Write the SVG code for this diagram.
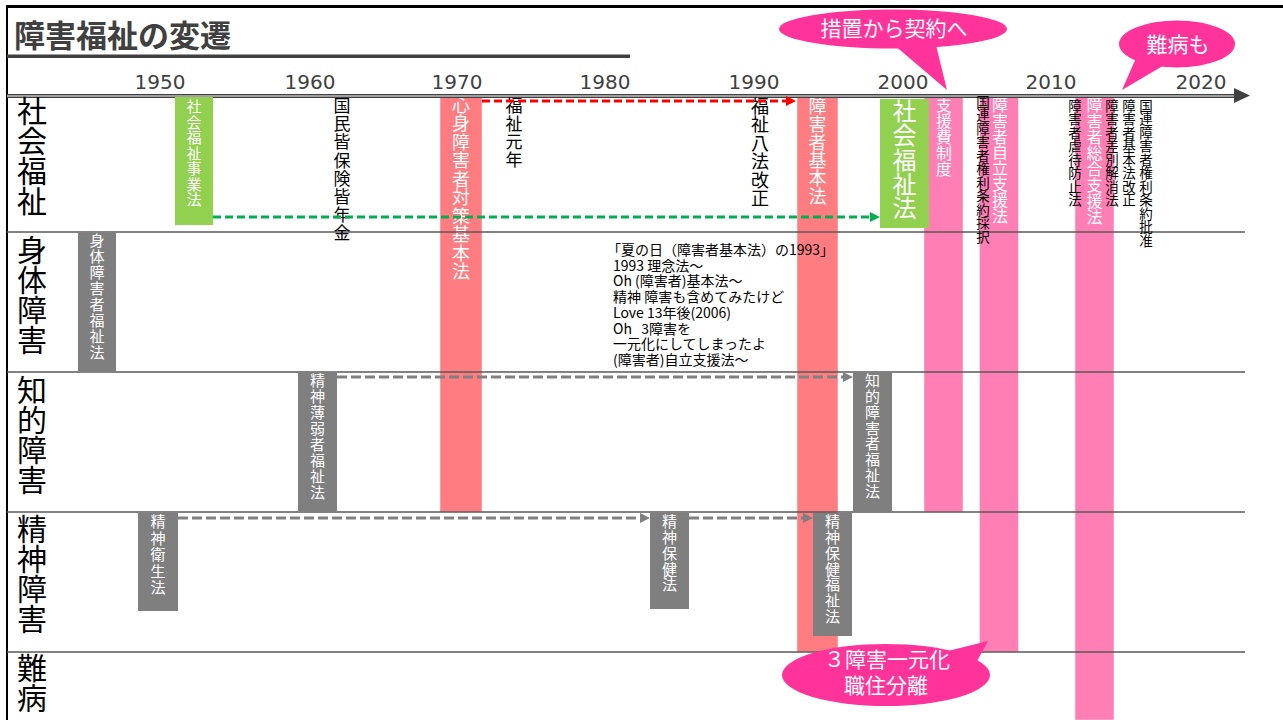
<svg xmlns="http://www.w3.org/2000/svg" width="1283" height="720" viewBox="0 0 1283 720">
<defs>
<style>
text{font-family:'Noto Sans CJK JP','Noto Sans',sans-serif;}
.v{writing-mode:vertical-rl;}
.w{fill:#fff;}
.k{fill:#000;}
.salmon{fill:#FF7C80;stroke:#fff;stroke-opacity:0.45;stroke-width:1;}
.pink{fill:#FF7EB4;stroke:#fff;stroke-opacity:0.45;stroke-width:1;}
.green{fill:#92D050;}
.gray{fill:#7F7F7F;}
.grid{stroke:#595959;stroke-width:1.3;}
.row{font-size:30px;fill:#000;}
.yr{font-family:'DejaVu Sans','Noto Sans',sans-serif;font-size:20px;fill:#404040;text-anchor:middle;}
.dash{fill:none;stroke-width:3;stroke-dasharray:8 4;}
.gdash{fill:none;stroke-width:3;stroke-dasharray:10 4;}
.callout{fill:#FF3399;}
.ct{fill:#fff;font-size:21px;text-anchor:middle;}
.lyr{font-size:14px;fill:#000;}
</style>
<marker id="arR" viewBox="0 0 10 10" refX="0" refY="5" markerWidth="10" markerHeight="10" markerUnits="userSpaceOnUse" orient="auto"><path d="M0,0 L10,5 L0,10 z" fill="#FF0000"/></marker>
<marker id="arG" viewBox="0 0 10 10" refX="0" refY="5" markerWidth="10" markerHeight="10" markerUnits="userSpaceOnUse" orient="auto"><path d="M0,0 L10,5 L0,10 z" fill="#00B050"/></marker>
<marker id="arK" viewBox="0 0 10 10" refX="0" refY="5" markerWidth="10" markerHeight="10" markerUnits="userSpaceOnUse" orient="auto"><path d="M0,0 L10,5 L0,10 z" fill="#808080"/></marker>
</defs>
<rect x="0" y="0" width="1283" height="720" fill="#fff"/>

<g id="frame">
<rect x="6" y="5" width="1277" height="3" fill="#000"/>
<rect x="6" y="5" width="2" height="715" fill="#000"/>
</g>

<g id="title">
<text x="14" y="47" font-size="31" font-weight="bold" fill="#404040">障害福祉の変遷</text>
<rect x="7" y="54.5" width="623" height="3.5" fill="#404040"/>
</g>

<g id="n-shinshin">
<rect class="salmon" x="440" y="96" width="42" height="416"/>
<text class="v w" x="461" y="96" font-size="18" letter-spacing="0.5">心身障害者対策基本法</text>
</g>
<g id="n-kihonho">
<rect class="salmon" x="797" y="96" width="41" height="556"/>
<text class="v w" x="817.5" y="97" font-size="18">障害者基本法</text>
</g>
<g id="n-shienhi">
<rect class="pink" x="924" y="96" width="39" height="416"/>
<text class="v w" x="944" y="97" font-size="16">支援費制度</text>
</g>
<g id="n-jiritsu">
<rect class="pink" x="979.5" y="96" width="39" height="556"/>
<text class="v w" x="1000" y="97" font-size="16" letter-spacing="-0.2">障害者自立支援法</text>
</g>
<g id="n-sogo">
<rect class="pink" x="1075" y="96" width="39" height="624"/>
<text class="v w" x="1094.5" y="97" font-size="16">障害者総合支援法</text>
</g>

<g id="grid">
<line class="grid" x1="7" y1="232" x2="1245" y2="232"/>
<line class="grid" x1="7" y1="372" x2="1245" y2="372"/>
<line class="grid" x1="7" y1="512" x2="1245" y2="512"/>
<line class="grid" x1="7" y1="652" x2="1245" y2="652"/>
</g>

<g id="axis">
<line x1="7" y1="96" x2="1236" y2="96" stroke="#404040" stroke-width="4"/>
<line x1="7" y1="96" x2="1236" y2="96" stroke="#fff" stroke-width="1.2"/>
<polygon points="1234,88 1250,95.5 1234,103" fill="#404040"/>
<text class="yr" x="160" y="89">1950</text>
<text class="yr" x="310" y="89">1960</text>
<text class="yr" x="457" y="89">1970</text>
<text class="yr" x="605" y="89">1980</text>
<text class="yr" x="754" y="89">1990</text>
<text class="yr" x="903" y="89">2000</text>
<text class="yr" x="1051" y="89">2010</text>
<text class="yr" x="1201" y="89">2020</text>
</g>

<g id="rowlabel-shakai"><text class="v row" x="32" y="96">社会福祉</text></g>
<g id="rowlabel-shintai"><text class="v row" x="32" y="235">身体障害</text></g>
<g id="rowlabel-chiteki"><text class="v row" x="32" y="375">知的障害</text></g>
<g id="rowlabel-seishin"><text class="v row" x="32" y="514">精神障害</text></g>
<g id="rowlabel-nanbyo"><text class="v row" x="32" y="653">難病</text></g>

<g id="n-shakaijigyo">
<rect class="green" x="175" y="97" width="38" height="128"/>
<text class="v w" x="194" y="99" font-size="15" letter-spacing="0.5">社会福祉事業法</text>
</g>
<g id="n-kaihoken">
<text class="v k" x="342" y="97" font-size="17" letter-spacing="1.2">国民皆保険皆年金</text>
</g>
<g id="n-gannen">
<text class="v k" x="514" y="97" font-size="17" letter-spacing="1">福祉元年</text>
</g>
<g id="n-happo">
<text class="v k" x="760" y="97" font-size="18" letter-spacing="0.5">福祉八法改正</text>
</g>
<g id="n-shakaifukushiho">
<rect class="green" x="880" y="99" width="49" height="129"/>
<text class="v w" x="904.5" y="99" font-size="24" letter-spacing="0.3">社会福祉法</text>
</g>
<g id="n-kenri-saitaku">
<text class="v k" x="983" y="95" font-size="13.5">国連障害者権利条約採択</text>
</g>
<g id="n-gyakutai">
<text class="v k" x="1075" y="99" font-size="13.5">障害者虐待防止法</text>
</g>
<g id="n-sabetsu">
<text class="v k" x="1112" y="99" font-size="13.5">障害者差別解消法</text>
</g>
<g id="n-kihon-kaisei">
<text class="v k" x="1129" y="99" font-size="13.5">障害者基本法改正</text>
</g>
<g id="n-kenri-hijun">
<text class="v k" x="1146" y="99" font-size="13.5">国連障害者権利条約批准</text>
</g>

<g id="n-shintaiho">
<rect class="gray" x="78" y="233" width="38" height="138"/>
<text class="v w" x="97" y="233" font-size="15" letter-spacing="1">身体障害者福祉法</text>
</g>
<g id="n-hakujaku">
<rect class="gray" x="298" y="373" width="39" height="139"/>
<text class="v w" x="317.5" y="373" font-size="15" letter-spacing="1">精神薄弱者福祉法</text>
</g>
<g id="n-chitekiho">
<rect class="gray" x="853" y="372" width="39" height="140"/>
<text class="v w" x="872.5" y="373" font-size="15" letter-spacing="0.8">知的障害者福祉法</text>
</g>
<g id="n-eisei">
<rect class="gray" x="138" y="513" width="40" height="98"/>
<text class="v w" x="158" y="514" font-size="15" letter-spacing="1.5">精神衛生法</text>
</g>
<g id="n-hoken">
<rect class="gray" x="650" y="513" width="39" height="96"/>
<text class="v w" x="669.5" y="514" font-size="15" letter-spacing="0.8">精神保健法</text>
</g>
<g id="n-hokenfukushi">
<rect class="gray" x="813" y="513" width="39" height="123"/>
<text class="v w" x="832.5" y="514" font-size="15" letter-spacing="0.8">精神保健福祉法</text>
</g>

<g id="lyrics">
<text class="lyr">
<tspan x="607" y="255">「夏の日（障害者基本法）の1993」</tspan>
<tspan x="613" dy="15.7">1993 理念法～</tspan>
<tspan x="613" dy="15.7">Oh (障害者)基本法～</tspan>
<tspan x="613" dy="15.7">精神 障害も含めてみたけど</tspan>
<tspan x="613" dy="15.7">Love 13年後(2006)</tspan>
<tspan x="613" dy="15.7">Oh&#160;&#160;&#160;3障害を</tspan>
<tspan x="613" dy="15.7">一元化にしてしまったよ</tspan>
<tspan x="613" dy="15.7">(障害者)自立支援法～</tspan>
</text>
</g>

<g id="connectors">
<path class="dash" d="M482,101 H786" stroke="#FF0000" marker-end="url(#arR)"/>
<path class="dash" d="M213,217 H870" stroke="#00B050" marker-end="url(#arG)"/>
<path class="gdash" d="M337,377 H843" stroke="#808080" marker-end="url(#arK)"/>
<path class="gdash" d="M178,518 H640" stroke="#808080" marker-end="url(#arK)"/>
<path class="gdash" d="M689,518 H803" stroke="#808080" marker-end="url(#arK)"/>
</g>

<g id="callout-keiyaku">
<ellipse class="callout" cx="893" cy="29" rx="114" ry="19.5"/>
<polygon class="callout" points="893,44 935,41 947,90"/>
<text class="ct" x="894" y="36" font-size="20">措置から契約へ</text>
</g>
<g id="callout-nanbyo">
<ellipse class="callout" cx="1177" cy="44" rx="58" ry="23.5"/>
<polygon class="callout" points="1136,58 1166,64 1122,90"/>
<text class="ct" x="1178" y="52">難病も</text>
</g>
<g id="callout-ichigenka">
<ellipse class="callout" cx="886" cy="675" rx="104" ry="31"/>
<polygon class="callout" points="948,651 976,663 988,641"/>
<text class="ct" x="887" y="667">３障害一元化</text>
<text class="ct" x="886" y="693">職住分離</text>
</g>
</svg>
